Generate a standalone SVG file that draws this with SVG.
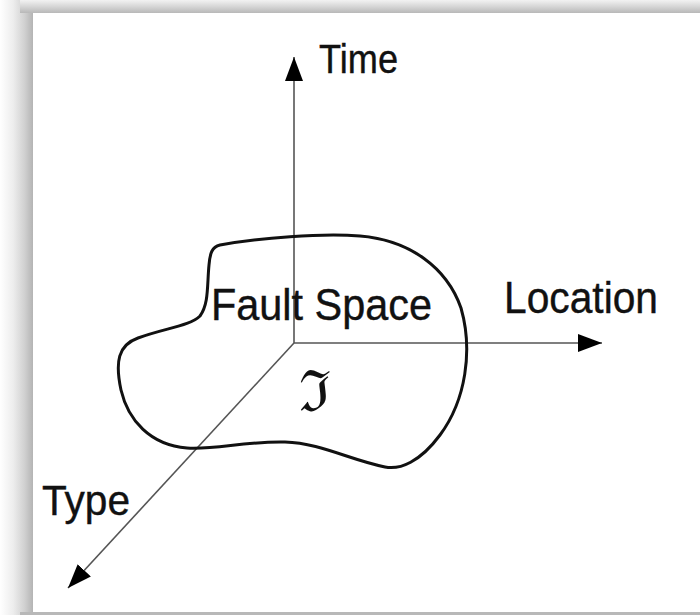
<svg xmlns="http://www.w3.org/2000/svg" width="700" height="615" viewBox="0 0 700 615">
  <defs>
    <linearGradient id="lg" x1="0" y1="0" x2="1" y2="0">
      <stop offset="0" stop-color="#ffffff"/>
      <stop offset="0.4" stop-color="#ededed"/>
      <stop offset="0.75" stop-color="#d0d0d0"/>
      <stop offset="1" stop-color="#b4b4b4"/>
    </linearGradient>
    <linearGradient id="tg" x1="0" y1="0" x2="0" y2="1">
      <stop offset="0" stop-color="#f2f2f2"/>
      <stop offset="0.5" stop-color="#d6d6d6"/>
      <stop offset="1" stop-color="#b8b8b8"/>
    </linearGradient>
    <marker id="ah" viewBox="0 0 24 18" refX="24" refY="9" markerWidth="24" markerHeight="18" markerUnits="userSpaceOnUse" orient="auto">
      <path d="M0,0 L24,9 L0,18 Z" fill="#000"/>
    </marker>
    <style>
      .lbl { font-family: "Liberation Sans", Arial, sans-serif; fill: #111; stroke: #111; stroke-width: 0.4; }
      .axis { stroke: #555; stroke-width: 1.6; fill: none; marker-end: url(#ah); }
      .blob { stroke: #111; stroke-width: 3; fill: none; }
    </style>
  </defs>
  <rect x="0" y="0" width="700" height="615" fill="#ffffff"/>
  <rect x="0" y="0" width="33" height="615" fill="url(#lg)"/>
  <rect x="20" y="0" width="680" height="13" fill="url(#tg)"/>
  <rect x="20" y="612" width="680" height="3" fill="#b8b8b8"/>
  <rect x="33" y="13" width="667" height="599" fill="#ffffff"/>

  <g id="connectors">
    <line class="axis" x1="294" y1="343" x2="294" y2="57"/>
    <line class="axis" x1="294" y1="343" x2="602" y2="343"/>
    <line class="axis" x1="294" y1="343" x2="68" y2="588"/>
  </g>

  <g id="fault-space">
    <path class="blob" d="M 220,245 C 260,238 320,233 360,236 C 410,240 447,268 461,308 C 473,350 466,400 440,435 C 420,462 400,470 385,467 C 350,460 320,443 285,442 C 245,441 215,450 187,448 C 150,445 128,420 121,390 C 115,362 118,345 138,338 C 165,328 190,326 200,316 C 209,304 207,285 209,265 C 210,253 212,247 220,245 Z"/>
    <text class="lbl" x="211" y="320" font-size="44" textLength="221" lengthAdjust="spacingAndGlyphs">Fault Space</text>
    <text x="299" y="411" font-family="DejaVu Serif, serif" font-size="57" fill="#111">ℑ</text>
  </g>

  <g id="time">
    <text class="lbl" x="319" y="73" font-size="41" textLength="79" lengthAdjust="spacingAndGlyphs">Time</text>
  </g>
  <g id="location">
    <text class="lbl" x="504" y="313" font-size="44" textLength="154" lengthAdjust="spacingAndGlyphs">Location</text>
  </g>
  <g id="type">
    <text class="lbl" x="42" y="515" font-size="43" textLength="88" lengthAdjust="spacingAndGlyphs">Type</text>
  </g>
</svg>
